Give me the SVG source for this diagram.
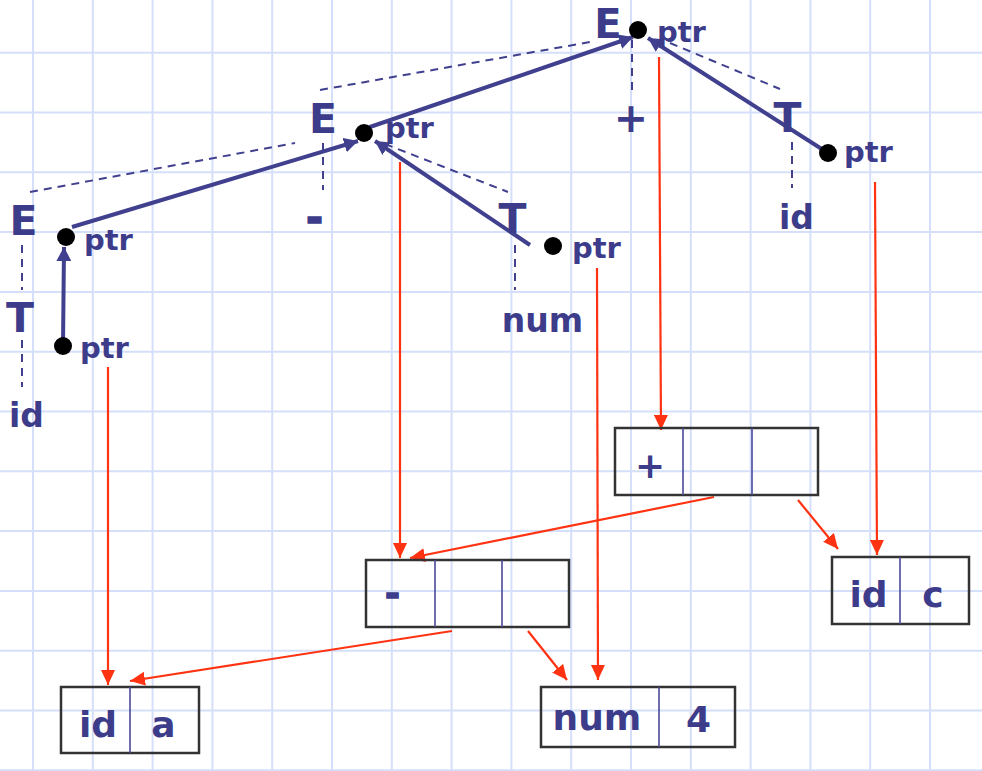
<svg xmlns="http://www.w3.org/2000/svg" width="982" height="771" viewBox="0 0 982 771">
<defs>
<style>
.t{font-family:"DejaVu Sans","Verdana",sans-serif;font-weight:bold;fill:#3c3c8a}
.big{font-size:41px}
.ptr{font-size:29px}
.lab{font-size:33px}
.bx{font-size:36px}
.thick{stroke:#3c3c8a;stroke-width:1.6}
.dot{fill:#000}
.solid{stroke:#40408f;stroke-width:4;fill:none}
.dash{stroke:#40408f;stroke-width:2;stroke-dasharray:8 6;fill:none}
.red{stroke:#ff3311;stroke-width:2.2;fill:none}
.box{stroke:#333;stroke-width:2.5;fill:none}
.div{stroke:#4a4a9a;stroke-width:1.6}
</style>
<marker id="ab" markerWidth="15" markerHeight="15" refX="14" refY="7.5" orient="auto" markerUnits="userSpaceOnUse"><path d="M0,0 L14,7.5 L0,15 Z" fill="#40408f"/></marker>
<marker id="ar" markerWidth="15" markerHeight="14" refX="15" refY="7" orient="auto" markerUnits="userSpaceOnUse"><path d="M0,0 L15,7 L0,14 Z" fill="#ff3311"/></marker>
</defs>
<rect width="982" height="771" fill="#fff"/>
<g id="grid" stroke="#d5dffa" stroke-width="2">
<path d="M33,0V771M92.8,0V771M152.6,0V771M212.4,0V771M272.2,0V771M332,0V771M391.8,0V771M451.6,0V771M511.4,0V771M571.2,0V771M631,0V771M690.8,0V771M750.6,0V771M810.4,0V771M870.2,0V771M930,0V771"/>
<path d="M0,52.7H982M0,112.5H982M0,172.3H982M0,232.1H982M0,291.9H982M0,351.7H982M0,411.5H982M0,471.3H982M0,531.1H982M0,590.9H982M0,650.7H982M0,710.5H982M0,770.3H982"/>
</g>
<g id="connectors">
<g id="tree-dashed">
<path class="dash" d="M30,192L295,143"/>
<path class="dash" d="M320,90L590,42"/>
<path class="dash" d="M22,245V290"/>
<path class="dash" d="M22,340V387"/>
<path class="dash" d="M323,143V190"/>
<path class="dash" d="M385,144L508,192"/>
<path class="dash" d="M515,245V290"/>
<path class="dash" d="M632,40V90"/>
<path class="dash" d="M670,43L780,89"/>
<path class="dash" d="M792,142V188"/>
</g>
<g id="ptr-links">
<path class="solid" d="M63,346L64,247" marker-end="url(#ab)"/>
<path class="solid" d="M72,227L358,141" marker-end="url(#ab)"/>
<path class="solid" d="M530,245L375,141" marker-end="url(#ab)"/>
<path class="solid" d="M367,128L633,37" marker-end="url(#ab)"/>
<path class="solid" d="M828,153L648,38" marker-end="url(#ab)"/>
</g>
<g id="red-links">
<path class="red" d="M108,367V685" marker-end="url(#ar)"/>
<path class="red" d="M400,162V558" marker-end="url(#ar)"/>
<path class="red" d="M597,268L598,680" marker-end="url(#ar)"/>
<path class="red" d="M659,57L661,430" marker-end="url(#ar)"/>
<path class="red" d="M875,182L877,555" marker-end="url(#ar)"/>
<path class="red" d="M714,497L410,558" marker-end="url(#ar)"/>
<path class="red" d="M798,500L838,549" marker-end="url(#ar)"/>
<path class="red" d="M452,631L130,681" marker-end="url(#ar)"/>
<path class="red" d="M528,631L567,680" marker-end="url(#ar)"/>
</g>
</g>
<g id="node-E-top"><text class="t" style="font-size:40px" x="608" y="37.5" text-anchor="middle">E</text><circle class="dot" cx="638" cy="30" r="9"/><text class="t ptr" x="657" y="42">ptr</text></g>
<g id="node-E-mid"><text class="t big" x="323" y="133" text-anchor="middle">E</text><circle class="dot" cx="364" cy="133" r="9"/><text class="t ptr" x="385" y="138">ptr</text></g>
<g id="node-E-left"><text class="t big" x="23.5" y="235" text-anchor="middle">E</text><circle class="dot" cx="66" cy="237" r="9"/><text class="t ptr" x="84" y="250">ptr</text></g>
<g id="node-T-left"><text class="t big" x="20" y="332" text-anchor="middle">T</text><circle class="dot" cx="63" cy="346" r="9"/><text class="t ptr" x="80" y="358">ptr</text></g>
<g id="node-id-left"><text class="t lab" x="26.5" y="427" text-anchor="middle">id</text></g>
<g id="node-minus"><text class="t big thick" x="314.5" y="232" text-anchor="middle">-</text></g>
<g id="node-T-num"><text class="t big" x="512.5" y="233" text-anchor="middle">T</text><circle class="dot" cx="553" cy="246" r="9"/><text class="t ptr" x="572" y="258">ptr</text></g>
<g id="node-num"><text class="t lab" x="542.5" y="332" text-anchor="middle">num</text></g>
<g id="node-plus"><text class="t big" x="631" y="132" text-anchor="middle">+</text></g>
<g id="node-T-right"><text class="t big" x="787.5" y="132" text-anchor="middle">T</text><circle class="dot" cx="828" cy="153" r="9"/><text class="t ptr" x="844" y="162">ptr</text></g>
<g id="node-id-right"><text class="t lab" x="796.5" y="229" text-anchor="middle">id</text></g>
<g id="box-plus"><rect class="box" x="615" y="428" width="203" height="67"/><path class="div" d="M683,428V495M752,428V495"/><text class="t bx" x="650" y="478" text-anchor="middle">+</text></g>
<g id="box-minus"><rect class="box" x="366" y="560" width="203" height="67"/><path class="div" d="M435,560V627M502,560V627"/><text class="t bx thick" x="392.5" y="606" text-anchor="middle">-</text></g>
<g id="box-id-a"><rect class="box" x="61" y="687" width="138" height="66"/><path class="div" d="M130,687V753"/><text class="t bx" x="98" y="737" text-anchor="middle">id</text><text class="t bx" x="163.5" y="737" text-anchor="middle">a</text></g>
<g id="box-num-4"><rect class="box" x="541" y="687" width="194" height="60"/><path class="div" d="M659,687V747"/><text class="t bx" x="597" y="730" text-anchor="middle">num</text><text class="t bx" x="698.5" y="732" text-anchor="middle">4</text></g>
<g id="box-id-c"><rect class="box" x="832" y="557" width="137" height="67"/><path class="div" d="M900,557V624"/><text class="t bx" x="868.5" y="607" text-anchor="middle">id</text><text class="t bx" x="933" y="607" text-anchor="middle">c</text></g>
</svg>
